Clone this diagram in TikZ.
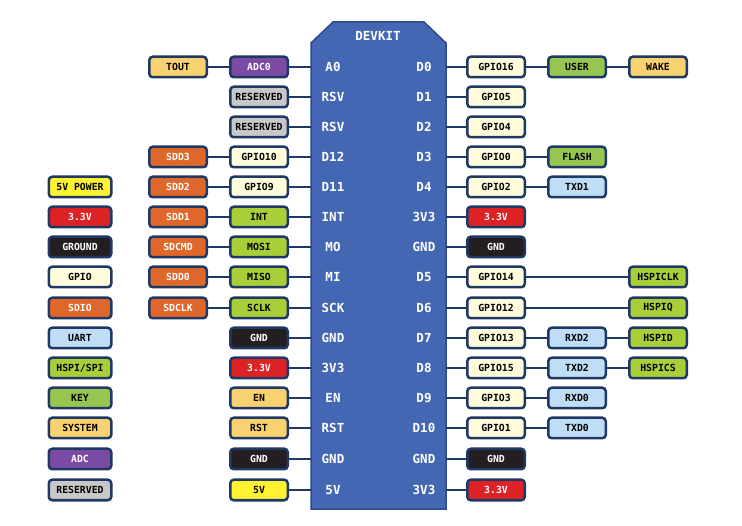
\documentclass[tikz,border=0pt]{standalone}
\usepackage{fontspec}
\usepackage{xcolor}
\usepackage{tikz}
\usetikzlibrary{positioning}
\newfontfamily\boxfont{DejaVu Sans Mono}

\definecolor{navy}{HTML}{1F3864}
\definecolor{boardfill}{HTML}{4467B4}
\definecolor{boardline}{HTML}{2C4A8C}
\definecolor{pwrfive}{HTML}{FFF230}
\definecolor{pwrthree}{HTML}{DD2226}
\definecolor{gndc}{HTML}{231F20}
\definecolor{gpioc}{HTML}{FFFCDC}
\definecolor{sdioc}{HTML}{E0672A}
\definecolor{uartc}{HTML}{BFDDF5}
\definecolor{hspic}{HTML}{A9CF38}
\definecolor{keyc}{HTML}{96C550}
\definecolor{sysc}{HTML}{F8D170}
\definecolor{adcc}{HTML}{7B4AA2}
\definecolor{rsvc}{HTML}{C8C8C8}

\begin{document}
\begin{tikzpicture}[
  x=1pt, y=-1pt,
  node distance=21pt,
  pinbox/.style={rectangle, draw=navy, line width=2.5pt,
    rounded corners=3.5pt, inner sep=0pt,
    minimum width=57.5pt, minimum height=20.5pt,
    font=\boxfont\bfseries\fontsize{9.8}{10}\selectfont},
  legend/.style={pinbox, minimum width=62.5pt},
  five/.style={pinbox, fill=pwrfive},
  three/.style={pinbox, fill=pwrthree, text=white},
  gnd/.style={pinbox, fill=gndc, text=white},
  gpio/.style={pinbox, fill=gpioc},
  sdio/.style={pinbox, fill=sdioc, text=white},
  uart/.style={pinbox, fill=uartc},
  hspi/.style={pinbox, fill=hspic},
  keybox/.style={pinbox, fill=keyc},
  sys/.style={pinbox, fill=sysc},
  adc/.style={pinbox, fill=adcc, text=white},
  rsv/.style={pinbox, fill=rsvc},
  pinlabel/.style={text=white, font=\boxfont\bfseries\fontsize{12.5}{12.5}\selectfont},
  wire/.style={draw=navy, line width=1.6pt}
]
\useasboundingbox (0,0) rectangle (742,526);

% board
\coordinate (bl) at (311,0);
\coordinate (br) at (446,0);
\draw[fill=boardfill, draw=boardline, line width=1.5pt]
  (311,43) -- (333,22) -- (424,22) -- (446,43) -- (446,509) -- (311,509) -- cycle;
\node[pinlabel] (devkit) at (378,36) {DEVKIT};

% left pin names
\node[pinlabel] (pa0)  at (333,67)  {A0};
\node[pinlabel] (prsv1) at (333,97) {RSV};
\node[pinlabel] (prsv2) at (333,127) {RSV};
\node[pinlabel] (pd12) at (333,157) {D12};
\node[pinlabel] (pd11) at (333,187) {D11};
\node[pinlabel] (pint) at (333,217) {INT};
\node[pinlabel] (pmo)  at (333,247) {MO};
\node[pinlabel] (pmi)  at (333,277) {MI};
\node[pinlabel] (psck) at (333,308) {SCK};
\node[pinlabel] (pgnd1) at (333,338) {GND};
\node[pinlabel] (p3v1) at (333,368) {3V3};
\node[pinlabel] (pen)  at (333,398) {EN};
\node[pinlabel] (prst) at (333,428) {RST};
\node[pinlabel] (pgnd2) at (333,459) {GND};
\node[pinlabel] (p5v)  at (333,490) {5V};

% right pin names
\node[pinlabel] (pd0)  at (424,67)  {D0};
\node[pinlabel] (pd1)  at (424,97)  {D1};
\node[pinlabel] (pd2)  at (424,127) {D2};
\node[pinlabel] (pd3)  at (424,157) {D3};
\node[pinlabel] (pd4)  at (424,187) {D4};
\node[pinlabel] (p3v2) at (424,217) {3V3};
\node[pinlabel] (pgnd3) at (424,247) {GND};
\node[pinlabel] (pd5)  at (424,277) {D5};
\node[pinlabel] (pd6)  at (424,308) {D6};
\node[pinlabel] (pd7)  at (424,338) {D7};
\node[pinlabel] (pd8)  at (424,368) {D8};
\node[pinlabel] (pd9)  at (424,398) {D9};
\node[pinlabel] (pd10) at (424,428) {D10};
\node[pinlabel] (pgnd4) at (424,459) {GND};
\node[pinlabel] (p3v3) at (424,490) {3V3};

% left boxes
\node[adc]  (adc0)  at (259,67)  {ADC0};
\node[sys, left=of adc0] (tout) {TOUT};
\node[rsv]  (rsv1)  at (259,97)  {RESERVED};
\node[rsv]  (rsv2)  at (259,127) {RESERVED};
\node[gpio] (gpio10) at (259,157) {GPIO10};
\node[sdio, left=of gpio10] (sdd3) {SDD3};
\node[gpio] (gpio9) at (259,187) {GPIO9};
\node[sdio, left=of gpio9] (sdd2) {SDD2};
\node[hspi] (int)   at (259,217) {INT};
\node[sdio, left=of int] (sdd1) {SDD1};
\node[hspi] (mosi)  at (259,247) {MOSI};
\node[sdio, left=of mosi] (sdcmd) {SDCMD};
\node[hspi] (miso)  at (259,277) {MISO};
\node[sdio, left=of miso] (sdd0) {SDD0};
\node[hspi] (sclk)  at (259,308) {SCLK};
\node[sdio, left=of sclk] (sdclk) {SDCLK};
\node[gnd]  (gndl1) at (259,338) {GND};
\node[three] (v3l)  at (259,368) {3.3V};
\node[sys]  (en)    at (259,398) {EN};
\node[sys]  (rst)   at (259,428) {RST};
\node[gnd]  (gndl2) at (259,459) {GND};
\node[five] (v5)    at (259,490) {5V};

% right boxes
\node[gpio] (gpio16) at (496,67) {GPIO16};
\node[keybox, right=of gpio16] (user) {USER};
\node[sys, right=of user] (wake) {WAKE};
\node[gpio] (gpio5) at (496,97)  {GPIO5};
\node[gpio] (gpio4) at (496,127) {GPIO4};
\node[gpio] (gpio0) at (496,157) {GPIO0};
\node[keybox, right=of gpio0] (flash) {FLASH};
\node[gpio] (gpio2) at (496,187) {GPIO2};
\node[uart, right=of gpio2] (txd1) {TXD1};
\node[three] (v3r1) at (496,217) {3.3V};
\node[gnd]  (gndr1) at (496,247) {GND};
\node[gpio] (gpio14) at (496,277) {GPIO14};
\node[hspi, right=102pt of gpio14] (hspiclk) {HSPICLK};
\node[gpio] (gpio12) at (496,308) {GPIO12};
\node[hspi, right=102pt of gpio12] (hspiq) {HSPIQ};
\node[gpio] (gpio13) at (496,338) {GPIO13};
\node[uart, right=of gpio13] (rxd2) {RXD2};
\node[hspi, right=of rxd2] (hspid) {HSPID};
\node[gpio] (gpio15) at (496,368) {GPIO15};
\node[uart, right=of gpio15] (txd2) {TXD2};
\node[hspi, right=of txd2] (hspics) {HSPICS};
\node[gpio] (gpio3) at (496,398) {GPIO3};
\node[uart, right=of gpio3] (rxd0) {RXD0};
\node[gpio] (gpio1) at (496,428) {GPIO1};
\node[uart, right=of gpio1] (txd0) {TXD0};
\node[gnd]  (gndr2) at (496,459) {GND};
\node[three] (v3r2) at (496,490) {3.3V};

% legend
\node[legend, fill=pwrfive] (lg5v)   at (80,187) {5V POWER};
\node[legend, fill=pwrthree, text=white] (lg3v) at (80,217) {3.3V};
\node[legend, fill=gndc, text=white] (lggnd) at (80,247) {GROUND};
\node[legend, fill=gpioc]  (lggpio)  at (80,277) {GPIO};
\node[legend, fill=sdioc, text=white] (lgsdio) at (80,308) {SDIO};
\node[legend, fill=uartc]  (lguart)  at (80,338) {UART};
\node[legend, fill=hspic]  (lghspi)  at (80,368) {HSPI/SPI};
\node[legend, fill=keyc]   (lgkey)   at (80,398) {KEY};
\node[legend, fill=sysc]   (lgsys)   at (80,428) {SYSTEM};
\node[legend, fill=adcc, text=white] (lgadc) at (80,459) {ADC};
\node[legend, fill=rsvc]   (lgrsv)   at (80,490) {RESERVED};

% left wires
\draw[wire] (adc0) -- (adc0 -| bl);
\draw[wire] (tout) -- (adc0);
\draw[wire] (rsv1) -- (rsv1 -| bl);
\draw[wire] (rsv2) -- (rsv2 -| bl);
\draw[wire] (gpio10) -- (gpio10 -| bl);
\draw[wire] (sdd3) -- (gpio10);
\draw[wire] (gpio9) -- (gpio9 -| bl);
\draw[wire] (sdd2) -- (gpio9);
\draw[wire] (int) -- (int -| bl);
\draw[wire] (sdd1) -- (int);
\draw[wire] (mosi) -- (mosi -| bl);
\draw[wire] (sdcmd) -- (mosi);
\draw[wire] (miso) -- (miso -| bl);
\draw[wire] (sdd0) -- (miso);
\draw[wire] (sclk) -- (sclk -| bl);
\draw[wire] (sdclk) -- (sclk);
\draw[wire] (gndl1) -- (gndl1 -| bl);
\draw[wire] (v3l) -- (v3l -| bl);
\draw[wire] (en) -- (en -| bl);
\draw[wire] (rst) -- (rst -| bl);
\draw[wire] (gndl2) -- (gndl2 -| bl);
\draw[wire] (v5) -- (v5 -| bl);

% right wires
\draw[wire] (gpio16) -- (gpio16 -| br);
\draw[wire] (gpio16) -- (user);
\draw[wire] (user) -- (wake);
\draw[wire] (gpio5) -- (gpio5 -| br);
\draw[wire] (gpio4) -- (gpio4 -| br);
\draw[wire] (gpio0) -- (gpio0 -| br);
\draw[wire] (gpio0) -- (flash);
\draw[wire] (gpio2) -- (gpio2 -| br);
\draw[wire] (gpio2) -- (txd1);
\draw[wire] (v3r1) -- (v3r1 -| br);
\draw[wire] (gndr1) -- (gndr1 -| br);
\draw[wire] (gpio14) -- (gpio14 -| br);
\draw[wire] (gpio14) -- (hspiclk);
\draw[wire] (gpio12) -- (gpio12 -| br);
\draw[wire] (gpio12) -- (hspiq);
\draw[wire] (gpio13) -- (gpio13 -| br);
\draw[wire] (gpio13) -- (rxd2);
\draw[wire] (rxd2) -- (hspid);
\draw[wire] (gpio15) -- (gpio15 -| br);
\draw[wire] (gpio15) -- (txd2);
\draw[wire] (txd2) -- (hspics);
\draw[wire] (gpio3) -- (gpio3 -| br);
\draw[wire] (gpio3) -- (rxd0);
\draw[wire] (gpio1) -- (gpio1 -| br);
\draw[wire] (gpio1) -- (txd0);
\draw[wire] (gndr2) -- (gndr2 -| br);
\draw[wire] (v3r2) -- (v3r2 -| br);
\end{tikzpicture}
\end{document}
